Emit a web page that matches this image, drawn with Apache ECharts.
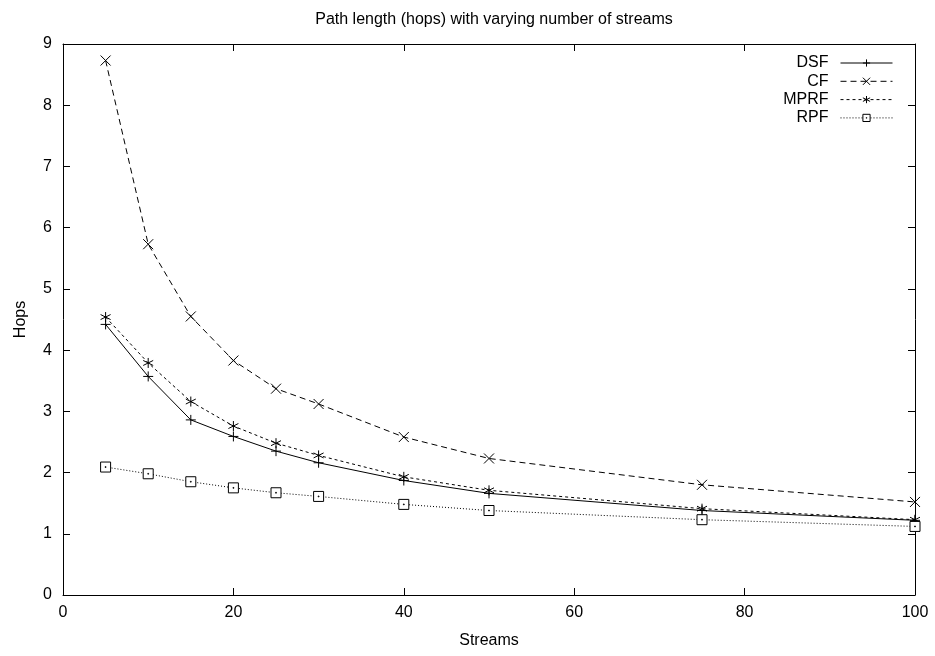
<!DOCTYPE html>
<html>
<head>
<meta charset="utf-8">
<script src="https://cdn.jsdelivr.net/npm/echarts@6/dist/echarts.min.js"></script>
<style>html,body{margin:0;padding:0;background:#fff}#c{width:935px;height:656px}</style>
</head>
<body>
<div id="c"></div>
<script>
const streams = [5, 10, 15, 20, 25, 30, 40, 50, 75, 100];
const dsf  = [4.42, 3.57, 2.86, 2.59, 2.35, 2.16, 1.87, 1.66, 1.38, 1.22];
const cf   = [8.73, 5.73, 4.55, 3.83, 3.37, 3.12, 2.58, 2.23, 1.80, 1.52];
const mprf = [4.54, 3.79, 3.16, 2.76, 2.48, 2.28, 1.93, 1.71, 1.41, 1.23];
const rpf  = [2.09, 1.98, 1.85, 1.75, 1.67, 1.61, 1.48, 1.38, 1.23, 1.12];
const seriesNames = ['DSF', 'CF', 'MPRF', 'RPF'];
const xTicks = [0, 20, 40, 60, 80, 100];
const yTicks = [0, 1, 2, 3, 4, 5, 6, 7, 8, 9];

const FONT = '"Liberation Sans", Arial, sans-serif';
const symbols = {
  DSF: 'path://M0,-1L0,1M-1,0L1,0',
  CF: 'path://M-1,-1L1,1M-1,1L1,-1',
  MPRF: 'path://M0,-1L0,1M-0.87,-0.5L0.87,0.5M-0.87,0.5L0.87,-0.5',
  RPF: 'path://M-1,-1L1,-1L1,1L-1,1ZM-0.08,-0.08L0.08,-0.08L0.08,0.08L-0.08,0.08Z'
};
const dashes = { DSF: 'solid', CF: [6, 4], MPRF: [3, 3], RPF: [1, 2] };
const sizes = { DSF: 10, CF: 10, MPRF: 10, RPF: 10 };
const dataMap = { DSF: dsf, CF: cf, MPRF: mprf, RPF: rpf };

function pairs(ys) { return streams.map((x, i) => [x, ys[i]]); }

const series = seriesNames.map(name => ({
  name: name,
  type: 'line',
  data: pairs(dataMap[name]),
  symbol: symbols[name],
  symbolSize: sizes[name],
  showSymbol: true,
  lineStyle: { color: '#000', width: 1, type: dashes[name] },
  itemStyle: { color: name === 'RPF' ? '#fff' : '#000', borderColor: '#000', borderWidth: 1 },
  emphasis: { disabled: true },
  z: 3
}));

const legends = seriesNames.map((name, i) => ({
  data: [{ name: name, itemStyle: { color: name === 'RPF' ? '#fff' : '#000', borderColor: '#000', borderWidth: 1 },
           lineStyle: { color: '#000', width: 1, type: dashes[name] } }],
  right: 42,
  top: 55 + i * 18.3,
  padding: 0,
  orient: 'vertical',
  align: 'right',
  itemWidth: 52,
  itemHeight: 9,
  selectedMode: false,
  textStyle: { fontFamily: FONT, fontSize: 16, color: '#000', padding: [0, 7, 0, 0] }
}));

function tick() { return { show: true, inside: true, length: 7, lineStyle: { color: '#000', width: 1 } }; }
function line() { return { show: true, onZero: false, lineStyle: { color: '#000', width: 1 } }; }

const option = {
  animation: false,
  backgroundColor: '#fff',
  title: {
    text: 'Path length (hops) with varying number of streams',
    left: 489, top: 7, textAlign: 'center',
    textStyle: { fontFamily: FONT, fontSize: 16, fontWeight: 'normal', color: '#000' }
  },
  legend: legends,
  grid: { left: 63, right: 20, top: 44, bottom: 61, containLabel: false, show: false },
  xAxis: [
    {
      type: 'value', position: 'bottom', min: xTicks[0], max: xTicks[xTicks.length - 1], interval: 20,
      name: 'Streams', nameLocation: 'middle', nameGap: 38,
      nameTextStyle: { fontFamily: FONT, fontSize: 16, color: '#000' },
      axisLine: line(),
      axisTick: tick(),
      axisLabel: { fontFamily: FONT, fontSize: 16, color: '#000', margin: 10 },
      splitLine: { show: false }
    },
    {
      type: 'value', position: 'top', min: xTicks[0], max: xTicks[xTicks.length - 1], interval: 20,
      axisLine: line(),
      axisTick: tick(), axisLabel: { show: false }, splitLine: { show: false }
    }
  ],
  yAxis: [
    {
      type: 'value', position: 'left', min: yTicks[0], max: yTicks[yTicks.length - 1], interval: 1,
      name: 'Hops', nameLocation: 'middle', nameGap: 34, nameRotate: 90,
      nameTextStyle: { fontFamily: FONT, fontSize: 16, color: '#000' },
      axisLine: line(),
      axisTick: tick(),
      axisLabel: { fontFamily: FONT, fontSize: 16, color: '#000', margin: 11 },
      splitLine: { show: false }
    },
    {
      type: 'value', position: 'right', min: yTicks[0], max: yTicks[yTicks.length - 1], interval: 1,
      axisLine: line(),
      axisTick: tick(), axisLabel: { show: false }, splitLine: { show: false }
    }
  ],
  series: series
};

const chart = echarts.init(document.getElementById('c'), null, { renderer: 'canvas' });
chart.setOption(option);
</script>
</body>
</html>
